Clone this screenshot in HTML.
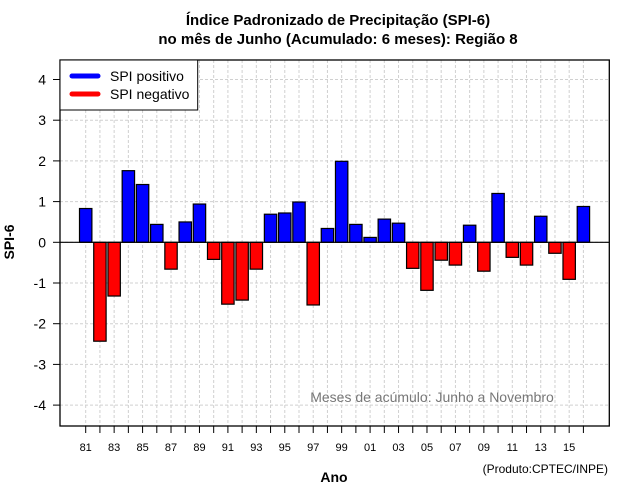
<!DOCTYPE html>
<html><head><meta charset="utf-8">
<style>
html,body{margin:0;padding:0;background:#fff;}
svg{display:block;font-family:"Liberation Sans",sans-serif;}
</style></head>
<body>
<svg id="chart" width="640" height="500" viewBox="0 0 640 500">
  <text x="338" y="25" text-anchor="middle" font-size="15" font-weight="bold">Índice Padronizado de Precipitação (SPI-6)</text>
  <text x="338" y="44" text-anchor="middle" font-size="15" font-weight="bold">no mês de Junho (Acumulado: 6 meses): Região 8</text>
  <g id="grid"></g>
  <g id="bars"></g>
  <g id="axes"></g>
  <text x="432" y="402" text-anchor="middle" font-size="14" fill="#777">Meses de acúmulo: Junho a Novembro</text>
  <text x="334" y="482" text-anchor="middle" font-size="14" font-weight="bold">Ano</text>
  <text x="608" y="473" text-anchor="end" font-size="12">(Produto:CPTEC/INPE)</text>
  <text x="14" y="242" text-anchor="middle" font-size="14" font-weight="bold" transform="rotate(-90 14 242)">SPI-6</text>
  <g>
    <rect x="60" y="60" width="137.7" height="50" fill="#fff" stroke="#000" stroke-width="1"/>
    <line x1="72" y1="76" x2="98" y2="76" stroke="#0000ff" stroke-width="5" stroke-linecap="round"/>
    <text x="110" y="81" font-size="14">SPI positivo</text>
    <line x1="72" y1="94" x2="98" y2="94" stroke="#ff0000" stroke-width="5" stroke-linecap="round"/>
    <text x="110" y="99" font-size="14">SPI negativo</text>
  </g>
</svg>
<script>
const years = [1981,1982,1983,1984,1985,1986,1987,1988,1989,1990,1991,1992,1993,1994,1995,1996,1997,1998,1999,2000,2001,2002,2003,2004,2005,2006,2007,2008,2009,2010,2011,2012,2013,2014,2015,2016];
const spiValues = [0.83,-2.43,-1.32,1.76,1.42,0.44,-0.66,0.50,0.94,-0.42,-1.52,-1.42,-0.66,0.69,0.72,0.99,-1.54,0.34,1.99,0.44,0.12,0.57,0.47,-0.64,-1.18,-0.44,-0.56,0.42,-0.71,1.20,-0.37,-0.56,0.64,-0.27,-0.91,0.88];
const yTicks = [-4,-3,-2,-1,0,1,2,3,4];
const xTickLabels = ["81","83","85","87","89","91","93","95","97","99","01","03","05","07","09","11","13","15"];

const NS = "http://www.w3.org/2000/svg";
const L = 60, R = 609.3, T = 60, B = 426;
const x0 = 85.7, dx = 14.22;
const yZero = 242.3, yUnit = 40.7;
function xPos(i){ return x0 + i*dx; }
function yPos(v){ return yZero - v*yUnit; }
function mk(tag, attrs, parent){ const e=document.createElementNS(NS,tag); for(const k in attrs) e.setAttribute(k,attrs[k]); parent.appendChild(e); return e; }

const grid = document.getElementById('grid');
const bars = document.getElementById('bars');
const axes = document.getElementById('axes');

yTicks.forEach(v=>{
  const g = mk('line',{x1:L,x2:R,y1:yPos(v),y2:yPos(v),stroke:'#d0d0d0','stroke-dasharray':'3,2'},grid);
  
  
  const t = mk('line',{x1:L-7,x2:L,y1:yPos(v),y2:yPos(v),stroke:'#000'},axes);
  
  
  const lb = mk('text',{x:L-14,y:yPos(v)+5,'text-anchor':'end','font-size':'14'},axes);
  lb.textContent = String(v);
  
  
});

years.forEach((yr,i)=>{
  const g = mk('line',{x1:xPos(i),x2:xPos(i),y1:T,y2:B,stroke:'#d0d0d0','stroke-dasharray':'3,2'},grid);
  
  
  const t = mk('line',{x1:xPos(i),x2:xPos(i),y1:B,y2:B+7,stroke:'#000'},axes);
  
  
});
xTickLabels.forEach((s,k)=>{
  const lb = mk('text',{x:xPos(k*2),y:451,'text-anchor':'middle','font-size':'11'},axes);
  lb.textContent = s;
  
  
});

const bw = 12.4;
spiValues.forEach((v,i)=>{
  const y1 = yPos(Math.max(v,0)), y2 = yPos(Math.min(v,0));
  const b = mk('rect',{x:xPos(i)-bw/2,y:y1,width:bw,height:Math.max(y2-y1,0.5),fill:v>=0?'#0000ff':'#ff0000',stroke:'#000','stroke-width':'1.2'},bars);
  
  
});

const zl = mk('line',{x1:L,x2:R,y1:yZero,y2:yZero,stroke:'#000','stroke-width':'1.2'},axes);


const frame = mk('rect',{x:L,y:T,width:R-L,height:B-T,fill:'none',stroke:'#000','stroke-width':'1.3'},axes);


</script>
</body></html>
